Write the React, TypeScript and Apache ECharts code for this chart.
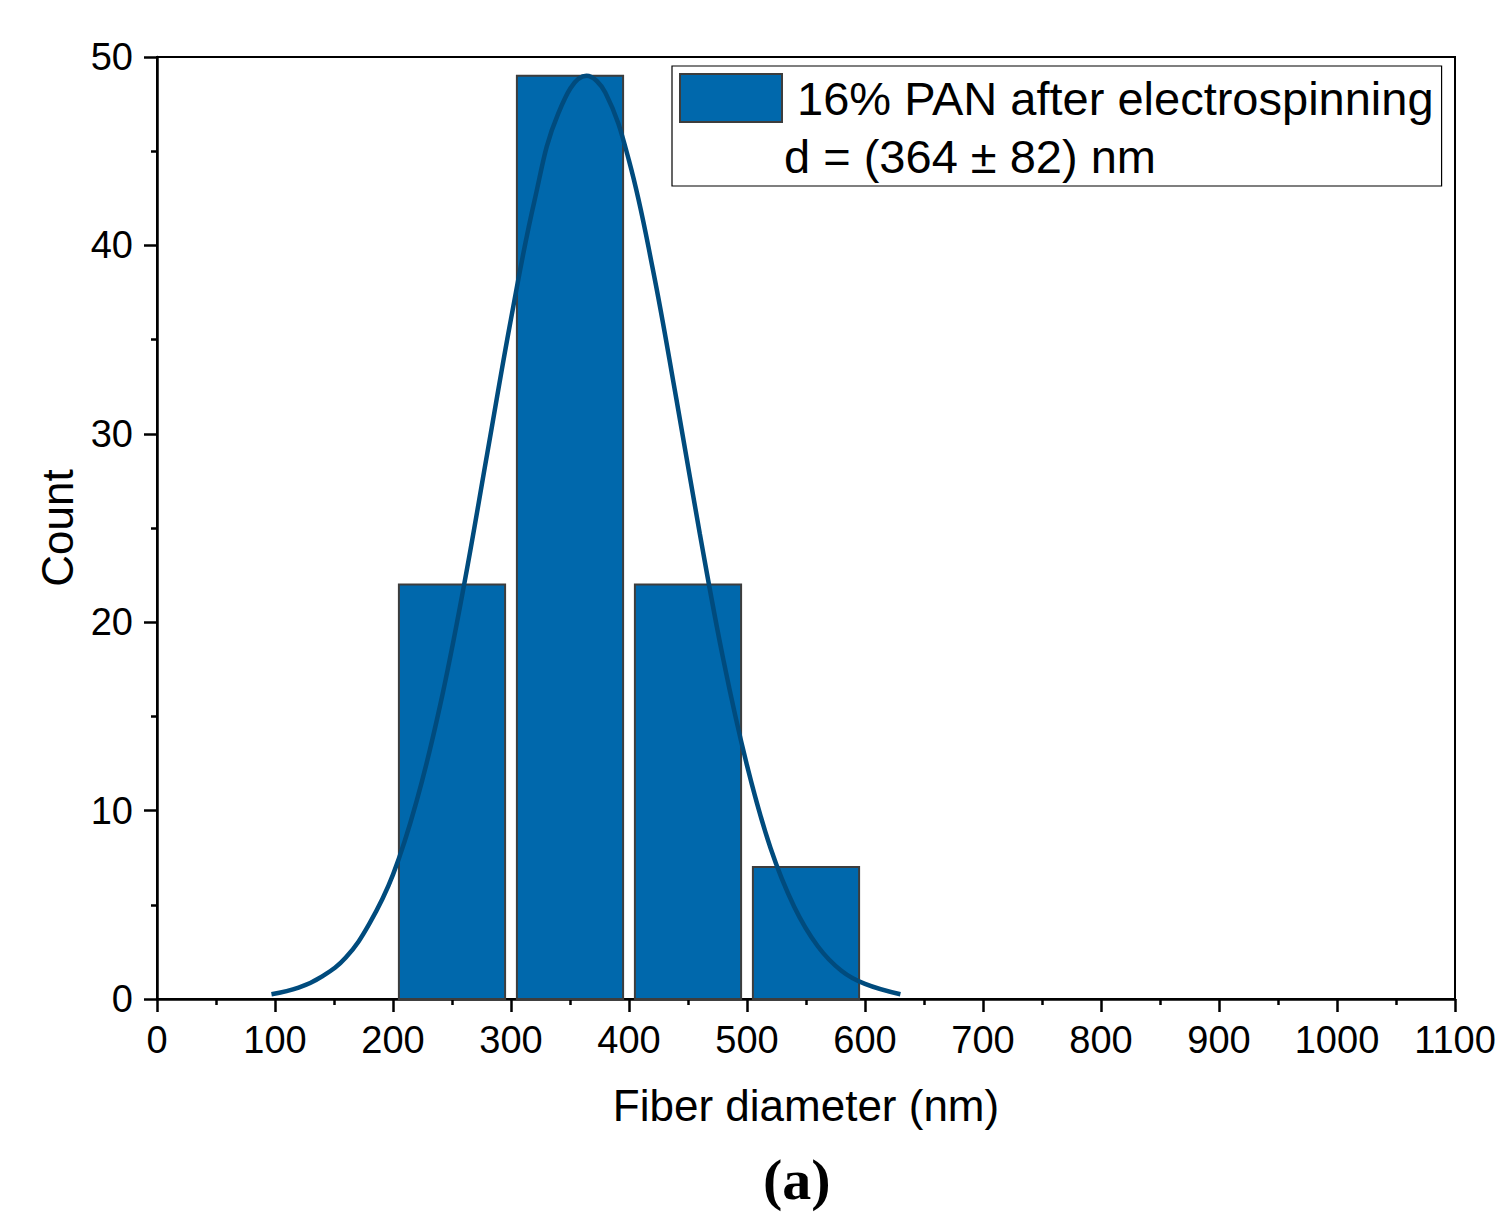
import React, { useEffect, useRef } from "react";
import * as echarts from "echarts";

// Histogram bins (nm) and counts
const binStarts = [200, 300, 400, 500];
const binEnds = [300, 400, 500, 600];
const counts = [22, 49, 22, 7];

// Fitted normal curve (x in nm, y in count)
const fitX = [97, 120, 140, 160, 180, 200, 220, 240, 260, 280, 300, 320, 340, 364, 380, 400, 420, 440, 460, 480, 500, 520, 540, 560, 580, 600, 630];
const fitY = [0.25, 0.6, 1.2, 2.2, 4.0, 6.6, 10.5, 15.6, 21.9, 29.0, 36.1, 42.4, 47.0, 49, 48.1, 44.5, 38.8, 31.9, 24.7, 18.0, 12.4, 8.0, 4.9, 2.8, 1.5, 0.8, 0.25];

const seriesName = "16% PAN after electrospinning";
const meanText = "d = (364 ± 82) nm";
const xAxisTitle = "Fiber diameter (nm)";
const yAxisTitle = "Count";
const panelLabel = "(a)";

const BAR_FILL = "#0068ac";
const BAR_EDGE = "#3d3d3d";
const CURVE = "#004b7d";
const FONT = "'Liberation Sans', Arial, sans-serif";

export default function App() {
  const ref = useRef<HTMLDivElement>(null);
  useEffect(() => {
    document.body.style.margin = "0";
    const chart = echarts.init(ref.current!, null, { renderer: "svg" });
    const barData = binStarts.map((s, i) => [s, binEnds[i], counts[i]]);
    const curveData = fitX.map((x, i) => [x, fitY[i]]);
    chart.setOption({
      animation: false,
      backgroundColor: "#ffffff",
      grid: {
        left: 157,
        right: 41,
        top: 57,
        bottom: 213,
        outerBoundsMode: "none",
        containLabel: false,
        show: true,
        borderColor: "#000",
        borderWidth: 2,
        backgroundColor: "transparent",
      },
      xAxis: {
        type: "value",
        min: 0,
        max: 1100,
        interval: 100,
        name: xAxisTitle,
        nameLocation: "middle",
        nameGap: 84,
        nameTextStyle: { fontFamily: FONT, fontSize: 44, color: "#000" },
        axisLine: { show: true, onZero: false, lineStyle: { color: "#000", width: 2.5 } },
        axisTick: { show: true, inside: false, length: 13, lineStyle: { color: "#000", width: 2.5 } },
        minorTick: { show: true, splitNumber: 2, length: 6, lineStyle: { color: "#000", width: 2.5 } },
        splitLine: { show: false },
        axisLabel: {
          fontFamily: FONT,
          fontSize: 38,
          color: "#000",
          margin: 22,
          showMaxLabel: true,
          formatter: (v: number) => String(v),
        },
      },
      yAxis: {
        type: "value",
        min: 0,
        max: 50,
        interval: 10,
        name: yAxisTitle,
        nameLocation: "middle",
        nameGap: 78,
        nameTextStyle: { fontFamily: FONT, fontSize: 44, color: "#000" },
        axisLine: { show: true, lineStyle: { color: "#000", width: 2.5 } },
        axisTick: { show: true, inside: false, length: 13, lineStyle: { color: "#000", width: 2.5 } },
        minorTick: { show: true, splitNumber: 2, length: 6, lineStyle: { color: "#000", width: 2.5 } },
        splitLine: { show: false },
        axisLabel: { fontFamily: FONT, fontSize: 38, color: "#000", margin: 24, formatter: (v: number) => String(v) },
      },
      legend: {
        show: true,
        left: 672,
        top: 66,
        orient: "vertical",
        data: [{ name: seriesName, icon: "rect" }],
        itemWidth: 102,
        itemHeight: 48,
        borderColor: "#000",
        borderWidth: 1.2,
        padding: [7, 8, 63, 7],
        backgroundColor: "#fff",
        textStyle: { fontFamily: FONT, fontSize: 47, color: "#000", padding: [0, 0, 0, 10] },
        itemStyle: { color: BAR_FILL, borderColor: BAR_EDGE, borderWidth: 2 },
      },
      graphic: [
        {
          type: "text",
          left: 784,
          top: 133,
          z: 100,
          style: { text: meanText, fontFamily: FONT, fontSize: 47, fill: "#000" },
        },
        {
          type: "text",
          left: 763,
          top: 1150,
          style: {
            text: panelLabel,
            fontFamily: "'Liberation Serif', 'DejaVu Serif', serif",
            fontWeight: "bold",
            fontSize: 58,
            fill: "#000",
          },
        },
      ],
      series: [
        {
          name: seriesName,
          type: "custom",
          data: barData,
          encode: { x: [0, 1], y: 2 },
          itemStyle: { color: BAR_FILL, borderColor: BAR_EDGE, borderWidth: 2 },
          renderItem: (params: any, api: any) => {
            const s = api.value(0);
            const e = api.value(1);
            const c = api.value(2);
            const pad = (e - s) * 0.05;
            const p0 = api.coord([s + pad, c]);
            const p1 = api.coord([e - pad, 0]);
            return {
              type: "rect",
              shape: { x: p0[0], y: p0[1], width: p1[0] - p0[0], height: p1[1] - p0[1] },
              style: { fill: BAR_FILL, stroke: BAR_EDGE, lineWidth: 2 },
            };
          },
          z: 2,
        },
        {
          name: "fit",
          type: "line",
          data: curveData,
          smooth: 0.4,
          showSymbol: false,
          lineStyle: { color: CURVE, width: 4.5 },
          z: 3,
        },
      ],
    });
    return () => chart.dispose();
  }, []);
  return <div ref={ref} style={{ width: 1496, height: 1212 }} />;
}
